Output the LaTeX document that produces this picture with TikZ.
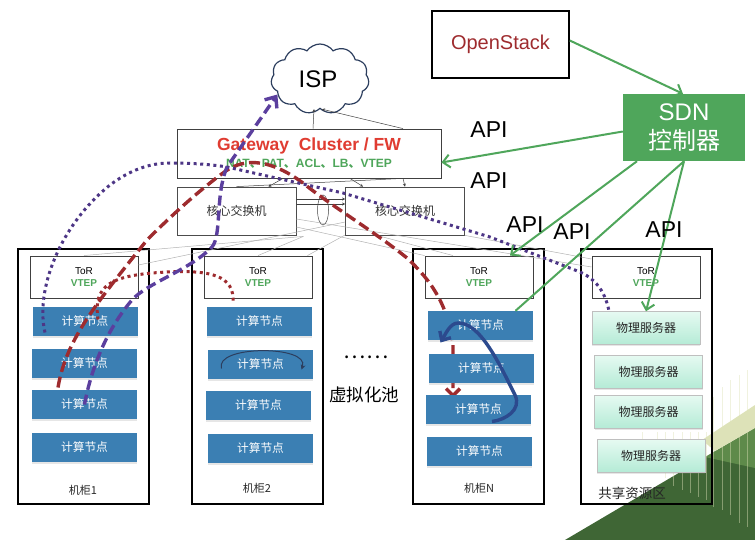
\documentclass[tikz,border=0pt]{standalone}
\usepackage{fontspec}
\setmainfont{Liberation Sans}
\newfontfamily\cjk{Noto Sans CJK SC}
\usetikzlibrary{arrows.meta,shapes.symbols,shapes.geometric,shadows}
\definecolor{GreenApi}{HTML}{4FA65B}
\definecolor{BlueNode}{HTML}{3B7FB3}
\definecolor{MintTop}{HTML}{E6FAF2}
\definecolor{MintLow}{HTML}{B5EBD6}
\definecolor{RedPath}{HTML}{9E2B2E}
\definecolor{RedTitle}{HTML}{E03C31}
\definecolor{PurplePath}{HTML}{5B3F9E}
\definecolor{NavyLine}{HTML}{2C3E5E}
\definecolor{BlueLoop}{HTML}{2C4A8E}
\definecolor{DarkLeaf}{HTML}{3F6635}
\definecolor{MidLeaf}{HTML}{5E8A4A}
\definecolor{PaleLeaf}{HTML}{DDE2B8}
\newcommand{\fs}[1]{\fontsize{#1}{#1}\selectfont}

\begin{document}
\begin{tikzpicture}[
    x=1pt, y=-1pt,
    rack/.style={draw=black, line width=1.6pt, minimum width=131pt, minimum height=255pt},
    tor/.style={draw=black!75, line width=0.9pt, fill=white, minimum width=108pt, minimum height=42pt, align=center, inner sep=0pt, font=\fs{10}},
    core/.style={draw=black!70, line width=0.8pt, fill=white, minimum width=119pt, minimum height=48pt, font=\cjk\fs{12}, text=black!80},
    comp/.style={fill=BlueNode, minimum width=105pt, minimum height=29pt, inner sep=0pt, text=white, font=\cjk\fs{11.7}, drop shadow={shadow xshift=0pt, shadow yshift=-2pt, opacity=0.2}},
    phy/.style={draw=black!25, top color=MintTop, bottom color=MintLow, minimum width=108pt, minimum height=33pt, inner sep=0pt, text=black!85, font=\cjk\fs{12}, drop shadow={shadow xshift=0pt, shadow yshift=-1.5pt, opacity=0.2}},
    racklabel/.style={font=\cjk\fs{11}, text=black!85, inner sep=0pt},
    api/.style={font=\fs{23}, inner sep=0pt},
    thin link/.style={draw=black!30, line width=0.5pt},
    corelink/.style={draw=black!75, line width=0.5pt, -{Stealth[length=3pt,width=3pt]}},
    greenarrow/.style={draw=GreenApi, line width=2pt, -{Straight Barb[length=7pt,width=13pt]}},
    purpledash/.style={draw=PurplePath, line width=3.4pt, dash pattern=on 10pt off 5pt},
    purpledot/.style={draw=PurplePath!85!black, line width=3pt, dash pattern=on 3pt off 3.6pt},
    reddash/.style={draw=RedPath, line width=3.4pt, dash pattern=on 11pt off 5pt},
    reddot/.style={draw=RedPath, line width=3pt, dash pattern=on 3pt off 3.6pt}
  ]
    \useasboundingbox (0,0) rectangle (755,540);

    % corner decoration
    \fill[DarkLeaf] (565,540) -- (755,428) -- (755,540) -- cycle;
    \fill[MidLeaf] (705,457) -- (755,428) -- (755,468) -- cycle;
    \fill[PaleLeaf] (702,440) -- (755,405) -- (755,428) -- (715,451) -- cycle;
    \foreach \lx/\ltop/\lbot in {642/432/470, 657/432/470, 665/432/478, 673/432/486, 682/432/490, 690/432/493, 698/432/497, 706/432/500, 713/397/507, 722/387/510, 730/380/515, 739/375/523, 747/370/527}
      \draw[PaleLeaf, opacity=0.45, line width=0.8pt] (\lx,\ltop) -- (\lx,\lbot);

    % top boxes
    \node[draw=black, line width=1.6pt, minimum width=137pt, minimum height=67pt, text=RedPath, font=\fs{20}] (openstack) at (500.5,44.5) {OpenStack};
    \node[fill=GreenApi, minimum width=122pt, minimum height=67pt, align=center, text=white, font=\fs{24}, inner sep=0pt] (sdn) at (684,127.5) {SDN\\[5pt]{\cjk 控制器}};
    \node[cloud, cloud puffs=11, cloud puff arc=110, aspect=1.35, draw=NavyLine, line width=1.2pt, fill=white, minimum width=98pt, minimum height=70pt, inner sep=0pt, font=\fs{24}] (isp) at (320,79) {ISP\hspace*{4pt}};
    \node[draw=black!75, line width=0.8pt, fill=white, minimum width=264pt, minimum height=49pt] (gateway) at (309,153.5) {};
    \node[text=RedTitle, font=\bfseries\fs{17.5}, inner sep=0pt] (gwtitle) at (309,146) {Gateway\ \ Cluster / FW};
    \node[text=GreenApi, font=\bfseries\fs{12}, inner sep=0pt] (gwtext) at (309,164) {NAT{\cjk 、}PAT{\cjk 、}ACL{\cjk 、}LB{\cjk 、}VTEP};
    \node[core] (core1) at (236.5,211) {核心交换机};
    \node[core] (core2) at (405,211) {核心交换机};

    % racks
    \node[rack] (rack1) at (83.5,376.5) {};
    \node[rack] (rack2) at (257.5,376.5) {};
    \node[rack] (rackn) at (478.5,376.5) {};
    \node[rack] (rackpub) at (646.5,376.5) {};
    \node[tor] (tor1) at (84,277) {ToR\\[2pt]{\bfseries\color{GreenApi}VTEP}};
    \node[tor] (tor2) at (258,277) {ToR\\[2pt]{\bfseries\color{GreenApi}VTEP}};
    \node[tor] (torn) at (479,277) {ToR\\[2pt]{\bfseries\color{GreenApi}VTEP}};
    \node[tor] (torpub) at (646,277) {ToR\\[2pt]{\bfseries\color{GreenApi}VTEP}};

    % uplinks between the switches
    \draw[thin link] (tor1.north) -- ([shift={(7,1)}]core1.south east);
    \draw[thin link] ([yshift=12pt]tor1.east) -- ([yshift=-11pt]core2.west);
    \draw[thin link] (tor2.north) -- ([shift={(7,1)}]core1.south east);
    \draw[thin link] ([shift={(-5,0)}]tor2.north east) -- ([yshift=-24pt]core2.west);
    \draw[thin link] ([yshift=-8pt]core1.east) -- ([yshift=10pt]torpub.west);
    \draw[thin link] ([yshift=-16pt]core1.east) -- (torn.north west);
    \draw[thin link] ([xshift=-88pt]core2.south east) -- ([xshift=-26pt]torn.north);
    \draw[thin link] (core2.south east) -- ([yshift=18pt]torpub.west);

    \draw[corelink] ([xshift=4pt]gateway.north) -- ([shift={(-6,0)}]isp.south);
    \draw[corelink] ([xshift=94pt]gateway.north) -- ([xshift=2pt]isp.south);
    \draw[corelink] ([xshift=-26pt]gateway.south) -- ([xshift=32pt]core1.north);
    \draw[corelink] ([xshift=41pt]gateway.south) -- ([xshift=-42pt]core2.north);
    \draw[corelink] (core1.north) -- ([xshift=94pt]gateway.south) -- (core2.north);
    \draw[corelink] ([yshift=12pt]core1.east) -- ([yshift=12pt]core2.west);
    \draw[corelink] ([yshift=7pt]core1.east) -- ([yshift=7pt]core2.west);
    \node[draw=black!75, line width=0.5pt, ellipse, minimum width=11pt, minimum height=30pt, inner sep=0pt] (lag) at (323,210) {};

    % computing nodes of the first racks
    \node[comp] (comp11) at (85,321.5) {计算节点};
    \node[comp] (comp12) at (84.5,363.5) {计算节点};
    \node[comp] (comp13) at (84.5,404.5) {计算节点};
    \node[comp] (comp14) at (84.5,447.5) {计算节点};
    \node[comp] (comp21) at (259.5,321.5) {计算节点};
    \node[comp] (comp22) at (260.5,364.5) {计算节点};
    \node[comp] (comp23) at (258.5,405.5) {计算节点};
    \node[comp] (comp24) at (260.5,448.5) {计算节点};
    \node[phy] (phy1) at (646,328) {物理服务器};
    \node[phy] (phy2) at (648.5,371.5) {物理服务器};
    \node[phy] (phy3) at (648.5,411.5) {物理服务器};
    \node[phy] (phy4) at (651,455.5) {物理服务器};

    \node[racklabel] (lb1) at (83,490) {机柜1};
    \node[racklabel] (lb2) at (257,488) {机柜2};
    \node[racklabel] (lbn) at (479,488) {机柜N};
    \node[racklabel, font=\cjk\fs{13.5}] (lbpub) at (632,493) {共享资源区};
    \node[font=\cjk\fs{21}, inner sep=0pt] (dots) at (366,357) {……};
    \node[font=\cjk\fs{17.5}, inner sep=0pt] (pool) at (364,395) {虚拟化池};

    % traffic paths
    \coordinate (redend) at (453,398);
    \draw[reddash, -{Straight Barb[length=7pt,width=14pt]}] ([shift={(-26.5,-17)}]comp13.center) .. controls (66,340) and (95,305) .. (147,240) .. controls (175,212) and (200,190) .. (223,173) .. controls (240,160) and (265,155) .. (303,183) .. controls (330,205) and (375,232) .. (407,258) .. controls (425,275) and (448,300) .. (453,345) -- (redend);
    \draw[reddot] ([shift={(13,-2)}]comp11.center) .. controls (93,285) and (110,275) .. (167,272) .. controls (210,270) and (235,275) .. ([shift={(-26.5,-4)}]comp21.north);
    \draw[purpledot] ([shift={(-40,11)}]comp11.center) .. controls (35,290) and (60,225) .. (110,185) .. controls (130,170) and (150,163) .. (170,163) .. controls (195,163) and (215,165) .. (227,167) -- (343,193) -- (490,237) -- (580,272) .. controls (598,280) and (606,295) .. ([shift={(-37,0)}]phy1.north);
    \draw[purpledash, -{Straight Barb[length=9pt,width=15pt]}] (comp13.center) .. controls (92,365) and (108,328) .. (132,300) .. controls (147,283) and (190,270) .. (212,247) .. controls (222,235) and (215,195) .. (227,167) -- (isp.200);

    % computing nodes of the last rack stay above the paths
    \node[comp] (compn1) at (480.5,325.5) {计算节点};
    \node[comp] (compn2) at (481.5,368) {计算节点};
    \node[comp] (compn3) at (478.5,409.5) {计算节点};
    \node[comp] (compn4) at (479.5,451.5) {计算节点};

    \draw[draw=NavyLine, line width=1pt, -{Stealth[length=5pt,width=5pt]}] ([shift={(-39,4)}]comp22.center) .. controls (214,345) and (310,345) .. ([shift={(41,5)}]comp22.center);
    \draw[draw=BlueLoop, line width=3.4pt, -{Straight Barb[length=7pt,width=13pt]}] ([shift={(13.5,12)}]compn3.center) .. controls (505,420) and (522,410) .. (515,395) .. controls (500,365) and (480,322) .. (458,323) .. controls (450,323) and (445,335) .. ([shift={(-40,17)}]compn1.center);

    % controller links
    \draw[greenarrow] ([yshift=4pt]openstack.east) -- ([xshift=-1pt]sdn.north);
    \draw[greenarrow] ([yshift=-4pt]sdn.west) -- ([yshift=-9pt]gateway.east);
    \draw[greenarrow] ([xshift=-47pt]sdn.south) -- ([xshift=31pt]torn.north);
    \draw[draw=GreenApi, line width=2pt] (sdn.south) -- ([xshift=35pt]compn1.north);
    \draw[greenarrow] (sdn.south) -- (phy1.north);

    \node[api] (api1) at (489,130) {API};
    \node[api] (api2) at (489,181) {API};
    \node[api] (api3) at (525,225) {API};
    \node[api] (api4) at (572,232) {API};
    \node[api] (api5) at (664,230) {API};
  \end{tikzpicture}
\end{document}
